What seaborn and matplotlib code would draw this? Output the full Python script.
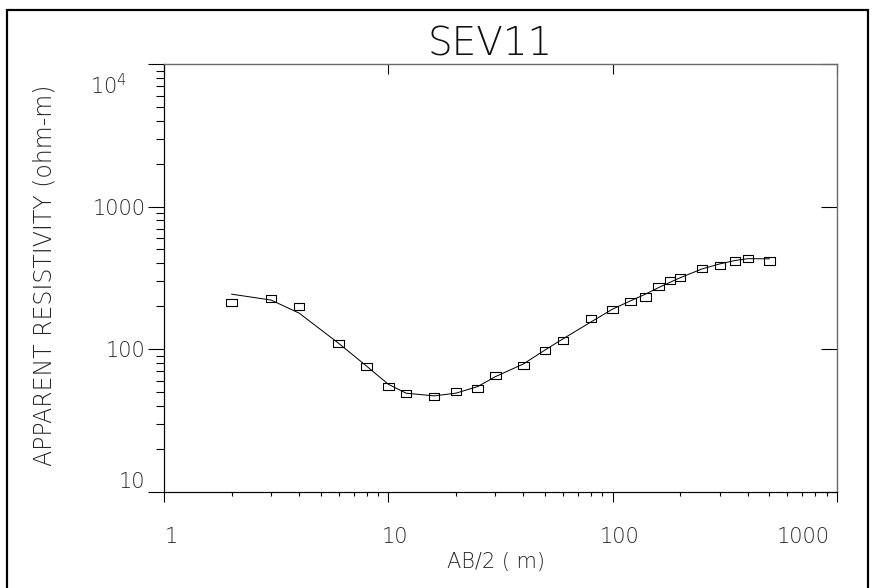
import matplotlib
matplotlib.use("Agg")
import matplotlib.pyplot as plt
import matplotlib.patches as mpatches
from matplotlib.transforms import ScaledTranslation
from matplotlib.ticker import FixedLocator, FixedFormatter, NullLocator, NullFormatter
import pandas as pd
import seaborn as sns

# Sounding SEV11: half electrode spacing AB/2 (m)
ab2 = [2, 3, 4, 6, 8, 10, 12, 16, 20, 25, 30, 40, 50, 60, 80,
       100, 120, 140, 160, 180, 200, 250, 300, 350, 400, 500]
# Field apparent resistivity (ohm-m)
rho_field = [212, 225, 199, 110, 76, 54.6, 48.5, 46.4, 50.4, 52.9, 65.6,
             77.1, 98.2, 115, 164, 191, 217, 232, 277, 301, 319, 369,
             387, 415, 429, 415]
# Apparent resistivity of the fitted layered model (ohm-m)
rho_model = [243, 221, 179, 110, 76, 56.7, 49.1, 47, 49.1, 54.6, 64.1,
             78.7, 98.7, 118, 155, 191, 218, 243, 270, 294, 317, 365,
             396, 418, 431, 430]

x_ticks = [1, 10, 100, 1000]
x_tick_labels = ["1", "10", "100", "1000"]
y_ticks = [10, 100, 1000, 10000]
y_tick_labels = ["10", "100", "1000", r"$\mathregular{10^4}$"]

title = "SEV11"
x_title = "AB/2 ( m)"
y_title = "APPARENT RESISTIVITY (ohm-m)"

df = pd.DataFrame({"ab2": ab2, "field": rho_field, "model": rho_model})

sns.set_theme(style="white")
plt.rcParams["font.family"] = ["DejaVu Sans"]
plt.rcParams["font.weight"] = 200
plt.rcParams["text.color"] = "#111111"

W, H = 874, 588
fig = plt.figure(figsize=(W / 100, H / 100), dpi=100)
fig.patch.set_facecolor("white")

# axes box in pixels: x 164..837, y 64..491.7
L, R, T, B = 164, 837, 64, 491.7
ax = fig.add_axes([L / W, (H - B) / H, (R - L) / W, (B - T) / H])
ax.set_facecolor("white")

px = 72 / 100  # points per pixel


def shift(dx, dy):
    return ScaledTranslation(dx / 100, dy / 100, fig.dpi_scale_trans)


sns.lineplot(data=df, x="ab2", y="model", ax=ax, color="black",
             linewidth=1.0 * px, sort=False)
box = [(-1, -0.68), (1, -0.68), (1, 0.68), (-1, 0.68), (-1, -0.68)]
sns.scatterplot(data=df, x="ab2", y="field", ax=ax, marker=box, s=56,
                facecolor="none", edgecolor="black", linewidth=1.1 * px,
                zorder=3)

ax.set_xscale("log")
ax.set_yscale("log")
ax.set_xlim(1, 1000)
ax.set_ylim(10, 10000)

for side in ["left", "bottom"]:
    ax.spines[side].set_color("black")
    ax.spines[side].set_linewidth(1.2 * px)
for side in ["top", "right"]:
    ax.spines[side].set_color("#6a6a6a")
    ax.spines[side].set_linewidth(1.2 * px)

# bottom / left ticks point outward
ax.xaxis.set_major_locator(FixedLocator(x_ticks))
ax.xaxis.set_major_formatter(FixedFormatter(x_tick_labels))
ax.xaxis.set_minor_formatter(NullFormatter())
ax.yaxis.set_major_locator(FixedLocator(y_ticks))
ax.yaxis.set_major_formatter(FixedFormatter(y_tick_labels))
ax.yaxis.set_minor_formatter(NullFormatter())

ax.tick_params(axis="x", which="major", direction="out", length=10 * px,
               width=1.1 * px, color="black", pad=18, labelsize=15,
               top=False, bottom=True)
ax.tick_params(axis="x", which="minor", direction="out", length=4 * px,
               width=1.1 * px, color="black", top=False, bottom=True)
ax.tick_params(axis="y", which="major", direction="out", length=16 * px,
               width=1.1 * px, color="black", pad=2, labelsize=15,
               left=True, right=False)
ax.tick_params(axis="y", which="minor", direction="out", length=8 * px,
               width=1.1 * px, color="black", left=True, right=False)

fig.canvas.draw()
xl = ax.get_xticklabels()
for i, lab in enumerate(xl):
    if i == len(xl) - 1:
        lab.set_horizontalalignment("right")
        lab.set_transform(lab.get_transform() + shift(-7, 0))
    else:
        lab.set_transform(lab.get_transform() + shift(7, 0))
yl = ax.get_yticklabels()
yl[0].set_verticalalignment("bottom")
yl[-1].set_verticalalignment("top")
yl[-1].set_transform(yl[-1].get_transform() + shift(-18, -9))

# top and right: major ticks pointing inward, no labels
top = ax.secondary_xaxis("top")
top.set_xticks(x_ticks)
top.xaxis.set_minor_locator(NullLocator())
top.tick_params(axis="x", which="major", direction="in", length=10 * px,
                width=1.1 * px, color="black", labeltop=False)
top.spines["top"].set_color("#6a6a6a")
top.spines["top"].set_linewidth(1.2 * px)

right = ax.secondary_yaxis("right")
right.set_yticks(y_ticks)
right.yaxis.set_minor_locator(NullLocator())
right.tick_params(axis="y", which="major", direction="in", length=16 * px,
                  width=1.1 * px, color="black", labelright=False)
right.spines["right"].set_color("#6a6a6a")
right.spines["right"].set_linewidth(1.2 * px)

ax.set_title(title, fontsize=28, fontweight=200, pad=0,
             x=(490.5 - L) / (R - L), y=(B - 56) / (B - T), va="baseline")
ax.set_xlabel(x_title, fontsize=15, fontweight=200)
ax.xaxis.set_label_coords((495.5 - L) / (R - L), (B - 568) / (B - T))
ax.xaxis.label.set_verticalalignment("baseline")
ax.set_ylabel(y_title, fontsize=17, fontweight=200)
ax.yaxis.set_label_coords((51.7 - L) / (R - L), (B - 275) / (B - T))
ax.yaxis.label.set_verticalalignment("baseline")

ax.grid(False)

# outer frame of the sheet
frame = mpatches.Rectangle((7 / W, -0.2), (868 - 7) / W, (H - 10) / H + 0.2,
                           transform=fig.transFigure, fill=False,
                           edgecolor="black", linewidth=2.2 * px)
fig.add_artist(frame)

fig.savefig("out.png", dpi=100, facecolor="white")
